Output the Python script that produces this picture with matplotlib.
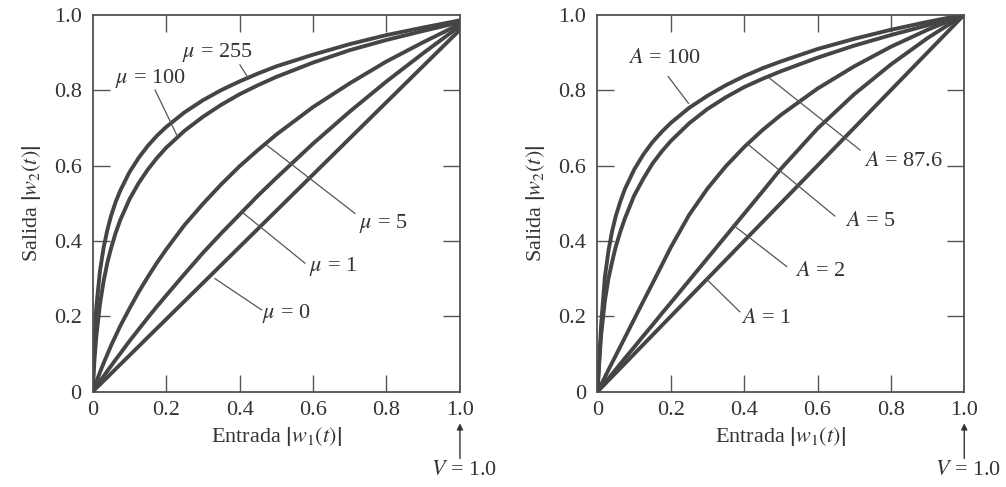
import matplotlib.pyplot as plt

plt.rcParams['font.family'] = ['Liberation Serif', 'DejaVu Serif']
plt.rcParams['mathtext.fontset'] = 'stix'

# valores (entrada normalizada |w1|)
x_in = [0, 0.005, 0.01, 0.02, 0.03, 0.04, 0.05, 0.0625, 0.075, 0.1, 0.125,
        0.15, 0.175, 0.2, 0.25, 0.3, 0.35, 0.4, 0.45, 0.5, 0.6, 0.7, 0.8,
        0.9, 1.0]

# ley mu (panel izquierdo)
mu_255 = [0, 0.146, 0.225, 0.321, 0.383, 0.429, 0.466, 0.503, 0.533, 0.582,
          0.620, 0.652, 0.679, 0.702, 0.741, 0.773, 0.800, 0.823, 0.844,
          0.863, 0.894, 0.922, 0.946, 0.966, 0.985]
mu_100 = [0, 0.086, 0.147, 0.233, 0.294, 0.342, 0.380, 0.421, 0.455, 0.510,
          0.553, 0.589, 0.620, 0.647, 0.692, 0.729, 0.761, 0.789, 0.813,
          0.835, 0.873, 0.906, 0.933, 0.957, 0.980]
mu_5 = [0, 0.013, 0.026, 0.052, 0.076, 0.099, 0.122, 0.148, 0.174, 0.220,
        0.264, 0.304, 0.342, 0.377, 0.442, 0.498, 0.550, 0.598, 0.641, 0.682,
        0.755, 0.818, 0.876, 0.927, 0.975]
mu_1 = [0, 0.007, 0.014, 0.028, 0.041, 0.055, 0.068, 0.085, 0.101, 0.134,
        0.165, 0.196, 0.226, 0.255, 0.312, 0.368, 0.420, 0.470, 0.520, 0.567,
        0.658, 0.743, 0.823, 0.898, 0.970]
mu_0 = [0, 0.005, 0.010, 0.019, 0.029, 0.038, 0.048, 0.060, 0.072, 0.096,
        0.120, 0.144, 0.168, 0.192, 0.240, 0.288, 0.336, 0.384, 0.432, 0.480,
        0.576, 0.672, 0.768, 0.864, 0.960]

# ley A (panel derecho)
a_100 = [0, 0.089, 0.178, 0.302, 0.374, 0.426, 0.466, 0.505, 0.538, 0.589,
         0.629, 0.662, 0.689, 0.713, 0.753, 0.785, 0.813, 0.837, 0.858,
         0.876, 0.909, 0.936, 0.960, 0.981, 1.0]
a_876 = [0, 0.080, 0.150, 0.240, 0.300, 0.345, 0.385, 0.425, 0.460, 0.520,
         0.565, 0.605, 0.637, 0.665, 0.712, 0.750, 0.781, 0.808, 0.830,
         0.850, 0.886, 0.918, 0.946, 0.972, 0.997]
a_5 = [0, 0.010, 0.019, 0.038, 0.058, 0.077, 0.096, 0.120, 0.144, 0.192,
       0.240, 0.287, 0.335, 0.383, 0.469, 0.539, 0.598, 0.649, 0.694, 0.734,
       0.804, 0.863, 0.915, 0.960, 1.0]
a_2 = [0, 0.006, 0.012, 0.024, 0.035, 0.047, 0.059, 0.074, 0.089, 0.118,
       0.148, 0.177, 0.207, 0.236, 0.295, 0.354, 0.413, 0.472, 0.531, 0.591,
       0.698, 0.789, 0.868, 0.938, 1.0]
a_1 = [0, 0.005, 0.01, 0.02, 0.03, 0.04, 0.05, 0.0625, 0.075, 0.1, 0.125,
       0.15, 0.175, 0.2, 0.25, 0.3, 0.35, 0.4, 0.45, 0.5, 0.6, 0.7, 0.8,
       0.9, 1.0]

tick_vals = [0, 0.2, 0.4, 0.6, 0.8, 1.0]
tick_labels = ['0', '0.2', '0.4', '0.6', '0.8', '1.0']

curve_color = '#454545'
ink = '#333333'
fs = 16


def setup_axes(ax):
    ax.set_xlim(0, 1)
    ax.set_ylim(0, 1)
    ax.set_xticks(tick_vals)
    ax.set_xticklabels(tick_labels)
    ax.set_yticks(tick_vals)
    ax.set_yticklabels(tick_labels)
    ax.tick_params(direction='in', length=12, width=1, color='#555555',
                   top=True, right=True, labelsize=fs, labelcolor=ink)
    ax.tick_params(axis='x', pad=7)
    ax.tick_params(axis='y', pad=8)
    for sp in ax.spines.values():
        sp.set_color('#505050')
        sp.set_linewidth(1.3)
    # las marcas de 0 y 1.0 caen sobre el borde
    for t in ax.xaxis.get_major_ticks() + ax.yaxis.get_major_ticks():
        if t.get_loc() in (0, 1.0):
            t.tick1line.set_visible(False)
            t.tick2line.set_visible(False)
    ax.set_xlabel(r'Entrada $\left|w_1(t)\right|$', fontsize=fs, color=ink,
                  labelpad=3)
    ax.set_ylabel(r'Salida $\left|w_2(t)\right|$', fontsize=fs, color=ink,
                  labelpad=8)

    # V = 1.0 debajo del eje
    ax.annotate('', xy=(1.0, -0.084), xytext=(1.0, -0.177),
                xycoords='data', annotation_clip=False,
                arrowprops=dict(arrowstyle='-|>', lw=1, color=ink,
                                mutation_scale=9, shrinkA=0, shrinkB=0))
    ax.text(1.01, -0.21, r'$V$ = 1.0', fontsize=fs, color=ink,
            ha='center', va='center', clip_on=False)


def leader(ax, text, on_curve, end, label_pos):
    ax.plot([on_curve[0], end[0]], [on_curve[1], end[1]],
            color='#555555', lw=0.9)
    ax.text(label_pos[0], label_pos[1], text, fontsize=fs, color=ink,
            ha='center', va='center')


fig = plt.figure(figsize=(10.06, 4.87), dpi=100)
ax1 = fig.add_axes([0.0921, 0.1957, 0.3651, 0.7741])
ax2 = fig.add_axes([0.5939, 0.1957, 0.3646, 0.7741])

for ys in [mu_255, mu_100, mu_5, mu_1, mu_0]:
    ax1.plot(x_in, ys, color=curve_color, lw=2.8, solid_capstyle='round')
setup_axes(ax1)
leader(ax1, r'$\mu$ = 255', (0.424, 0.831), (0.401, 0.867), (0.338, 0.900))
leader(ax1, r'$\mu$ = 100', (0.229, 0.681), (0.170, 0.800), (0.156, 0.830))
leader(ax1, r'$\mu$ = 5', (0.474, 0.654), (0.714, 0.473), (0.790, 0.447))
leader(ax1, r'$\mu$ = 1', (0.406, 0.477), (0.578, 0.341), (0.655, 0.332))
leader(ax1, r'$\mu$ = 0', (0.333, 0.300), (0.460, 0.217), (0.528, 0.208))

for ys in [a_100, a_876, a_5, a_2, a_1]:
    ax2.plot(x_in, ys, color=curve_color, lw=2.8, solid_capstyle='round')
setup_axes(ax2)
leader(ax2, r'$A$ = 100', (0.248, 0.765), (0.193, 0.836), (0.184, 0.884))
leader(ax2, r'$A$ = 87.6', (0.470, 0.831), (0.716, 0.641), (0.834, 0.610))
leader(ax2, r'$A$ = 5', (0.407, 0.659), (0.647, 0.466), (0.743, 0.451))
leader(ax2, r'$A$ = 2', (0.370, 0.442), (0.516, 0.332), (0.607, 0.318))
leader(ax2, r'$A$ = 1', (0.298, 0.298), (0.388, 0.212), (0.461, 0.195))

fig.savefig('out.png', dpi=100)
